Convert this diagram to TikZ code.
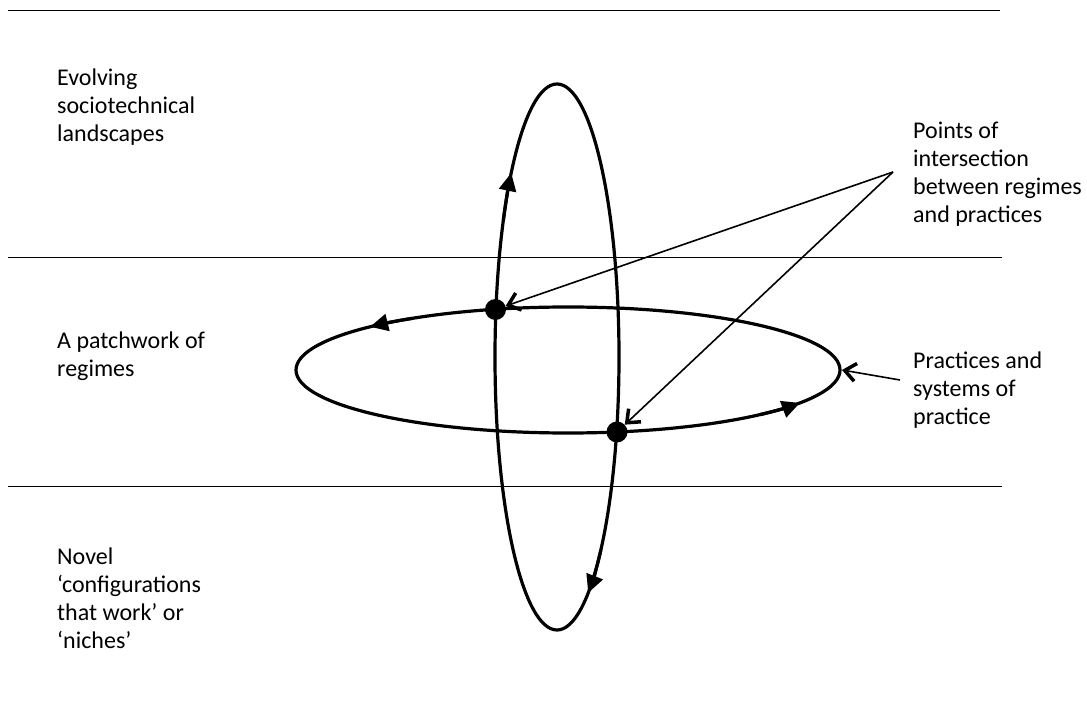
\documentclass[tikz,border=0pt]{standalone}
\usepackage{fontspec}
\setmainfont{Carlito}
\usetikzlibrary{arrows.meta}
\begin{document}
\begin{tikzpicture}[x=1pt,y=1pt,
  rule/.style={line width=1pt},
  loopline/.style={line width=3.2pt},
  looptip/.style={loopline,-{Triangle[length=18pt,width=17pt]}},
  pointer/.style={line width=1.6pt,-{Straight Barb[length=11pt,width=18pt,line width=3.5pt]}},
  lbl/.style={anchor=base west,inner sep=0pt,align=left,font=\fontsize{24}{28}\selectfont},
  dot/.style={circle,fill=black,inner sep=0pt,minimum size=21pt}]
\useasboundingbox (0,0) rectangle (1087,713);
% horizontal rules
\coordinate (r1a) at (8,702); \coordinate (r1b) at (1000,702);
\coordinate (r2a) at (8,455); \coordinate (r2b) at (1002,455);
\coordinate (r3a) at (8,227); \coordinate (r3b) at (1002,227);
\draw[rule] (r1a) -- (r1b);
\draw[rule] (r2a) -- (r2b);
\draw[rule] (r3a) -- (r3b);
% ellipses
\coordinate (vc) at (557,356);
\coordinate (hc) at (568,343);
\draw[loopline] (vc) ellipse[x radius=62, y radius=273];
\draw[loopline] (hc) ellipse[x radius=272, y radius=63];
% direction arrows
\draw[looptip] (vc) ++(150:62 and 273) arc[start angle=150,end angle=137.6,x radius=62,y radius=273];
\draw[looptip] (vc) ++(315:62 and 273) arc[start angle=315,end angle=300.2,x radius=62,y radius=273];
\draw[looptip] (hc) ++(125:272 and 63) arc[start angle=125,end angle=136.7,x radius=272,y radius=63];
\draw[looptip] (hc) ++(315:272 and 63) arc[start angle=315,end angle=328.5,x radius=272,y radius=63];
% intersection dots
\node[dot] (d1) at (495.5,403.5) {};
\node[dot] (d2) at (617,281) {};
% pointers
\coordinate (pp) at (893,541);
\coordinate (pq) at (900,333);
\coordinate (he) at (842,343);
\draw[pointer] (pp) -- (d1);
\draw[pointer] (pp) -- (d2);
\draw[pointer] (pq) -- (he);
% labels (anchored at the baseline of the last line)
\node[lbl] (t1) at (57,571) {Evolving\\sociotechnical\\landscapes};
\node[lbl] (t2) at (57,336) {A patchwork of\\regimes};
\node[lbl] (t3) at (57,65) {Novel\\‘configurations\\that work’ or\\‘niches’};
\node[lbl] (t4) at (913,490) {Points of\\intersection\\between regimes\\and practices};
\node[lbl] (t5) at (913,288) {Practices and\\systems of\\practice};
\end{tikzpicture}
\end{document}
